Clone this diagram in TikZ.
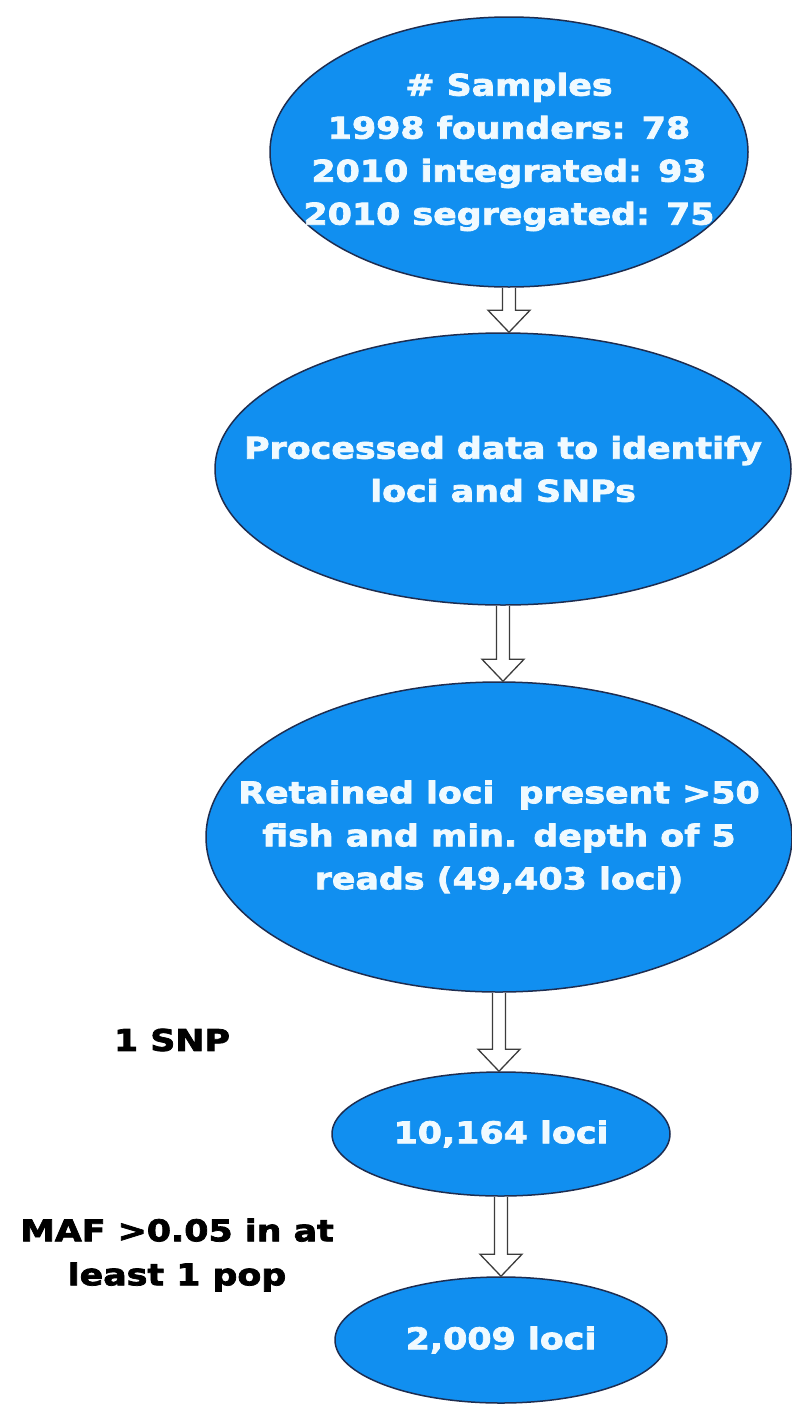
\documentclass[tikz,border=0pt]{standalone}
\usepackage{fontspec}
\newfontfamily\vfont{DejaVu Sans}[FakeStretch=1.16, FakeBold=2.5]
\usetikzlibrary{shapes.geometric,calc}
\definecolor{fillblue}{RGB}{17,143,240}
\definecolor{edgeblue}{RGB}{30,45,80}
\definecolor{arrgray}{RGB}{60,60,60}
\definecolor{txtwhite}{RGB}{240,250,255}
\newcommand\blockarrow[2]{\draw[barrow] let \p1=(#1.south), \p2=(#2.north) in
  (\x1-6.5pt,\y1) -- (\x1-6.5pt,\y2+22pt) -- (\x1-21pt,\y2+22pt) -- (\x1,\y2)
  -- (\x1+21pt,\y2+22pt) -- (\x1+6.5pt,\y2+22pt) -- (\x1+6.5pt,\y1);}
\begin{document}
\begin{tikzpicture}[x=1pt,y=-1pt,
  oval/.style={ellipse,draw=edgeblue,line width=1.5pt,fill=fillblue,inner sep=0pt},
  txt/.style={text=txtwhite,font=\vfont\bfseries\fontsize{30}{43}\selectfont,align=center,inner sep=0pt},
  lbl/.style={text=black,font=\vfont\bfseries\fontsize{30}{44}\selectfont,align=center,inner sep=0pt},
  barrow/.style={draw=arrgray,line width=1.3pt,fill=white,line join=miter}]
\useasboundingbox (0,0) rectangle (792,1411);
\fill[white] (0,0) rectangle (792,1411);

\node[oval,minimum width=478pt,minimum height=270pt] (e1) at (509,152) {};
\node[txt] (t1) at (e1.center) {\# Samples\\1998 founders: 78\\2010 integrated: 93\\2010 segregated: 75};

\node[oval,minimum width=576pt,minimum height=272pt] (e2) at (503,469) {};
\node[txt] (t2) at (e2.center) {Processed data to identify\\loci and SNPs};

\node[oval,minimum width=586pt,minimum height=310pt] (e3) at (499,837) {};
\node[txt] (t3) at (e3.center) {Retained loci\ \ present >50\\fish and min. depth of 5\\reads (49,403 loci)};

\node[oval,minimum width=338pt,minimum height=124pt] (e4) at (501,1134) {};
\node[txt] (t4) at (e4.center) {10,164 loci};

\node[oval,minimum width=332pt,minimum height=126pt] (e5) at (501,1340) {};
\node[txt] (t5) at (e5.center) {2,009 loci};

\blockarrow{e1}{e2}
\blockarrow{e2}{e3}
\blockarrow{e3}{e4}
\blockarrow{e4}{e5}

\node[lbl] (l1) at (172,1040) {1 SNP};
\node[lbl] (l2) at (177,1255) {MAF >0.05 in at\\least 1 pop};
\end{tikzpicture}
\end{document}
